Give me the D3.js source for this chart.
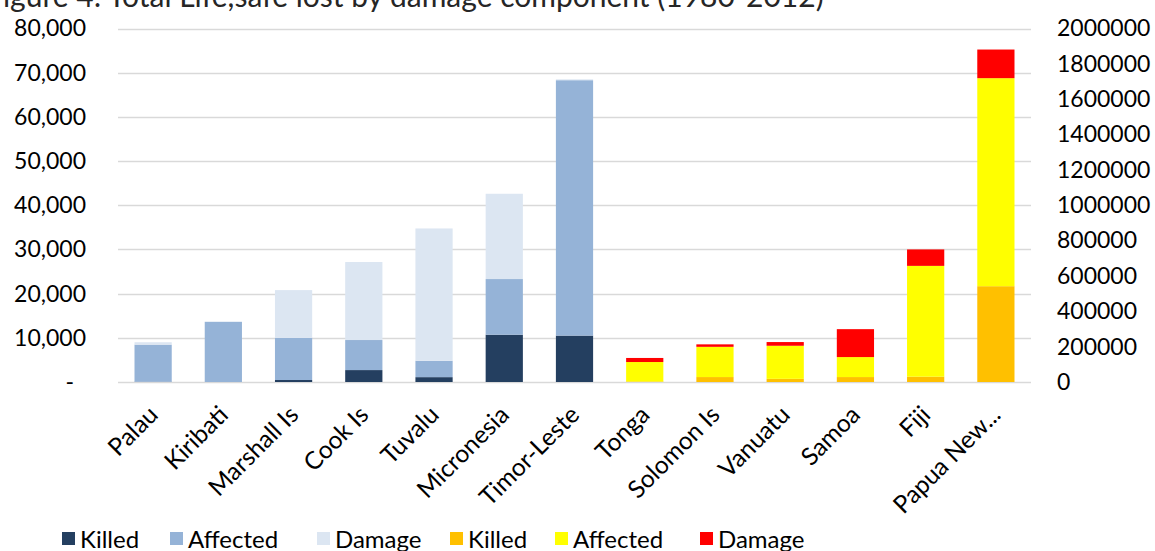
<!DOCTYPE html>
<html>
<head>
<meta charset="utf-8">
<script src="https://cdn.jsdelivr.net/npm/d3@7"></script>
<style>
  html, body { margin: 0; padding: 0; background: #fff; }
  svg { display: block; font-family: Lato, "Open Sans", sans-serif; }
</style>
</head>
<body>
<svg id="chart" width="1155" height="551"></svg>
<script>
// ---- data ----
const title = "Figure 4: Total Life,safe lost by damage component (1980-2012)";
const leftCategories = ["Palau", "Kiribati", "Marshall Is", "Cook Is", "Tuvalu", "Micronesia", "Timor-Leste"];
const rightCategories = ["Tonga", "Solomon Is", "Vanuatu", "Samoa", "Fiji", "Papua New..."];

// left axis series (first group)
const killedLeft   = [50, 0, 450, 2700, 1100, 10700, 10500];
const affectedLeft = [8400, 13600, 9550, 6800, 3700, 12600, 57800];
const damageLeft   = [550, 100, 10800, 17650, 29950, 19300, 200];

// right axis series (second group)
const killedRight   = [3000, 28000, 18000, 28000, 30000, 542000];
const affectedRight = [110000, 171000, 187000, 113000, 627000, 1177000];
const damageRight   = [23000, 14000, 21000, 158000, 93000, 162000];

const leftTicks = [0, 10000, 20000, 30000, 40000, 50000, 60000, 70000, 80000];
const leftTickLabels = ["-", "10,000", "20,000", "30,000", "40,000", "50,000", "60,000", "70,000", "80,000"];
const rightTicks = [0, 200000, 400000, 600000, 800000, 1000000, 1200000, 1400000, 1600000, 1800000, 2000000];
const rightTickLabels = ["0", "200000", "400000", "600000", "800000", "1000000", "1200000", "1400000", "1600000", "1800000", "2000000"];

const legendLabels = ["Killed", "Affected", "Damage", "Killed", "Affected", "Damage"];
const leftColors = ["#243F60", "#95B3D7", "#DCE6F2"];
const rightColors = ["#FFC000", "#FFFF00", "#FF0000"];

// ---- layout ----
const svg = d3.select("#chart");
const plot = { left: 118, right: 1031, top: 28.5, bottom: 382 };
const fontSize = 23;

const categories = leftCategories.concat(rightCategories);
const x = d3.scaleBand().domain(categories).range([plot.left, plot.right])
  .paddingInner(0.47).paddingOuter(0.235);
const yL = d3.scaleLinear().domain([0, 80000]).range([plot.bottom, plot.top]);
const yR = d3.scaleLinear().domain([0, 2000000]).range([plot.bottom, plot.top]);

// title (cut at top like reference)
svg.append("text").attr("x", -14).attr("y", 7)
  .attr("font-size", 30).attr("fill", "#262626").text(title);

// gridlines
svg.append("g").selectAll("line").data(leftTicks).join("line")
  .attr("x1", plot.left).attr("x2", plot.right)
  .attr("y1", d => Math.round(yL(d)) + 0.5).attr("y2", d => Math.round(yL(d)) + 0.5)
  .attr("stroke", "#D9D9D9").attr("stroke-width", 1.5);

// left axis
const axL = svg.append("g").attr("transform", `translate(${plot.left - 32},0)`)
  .call(d3.axisLeft(yL).tickValues(leftTicks).tickSize(0).tickPadding(0)
    .tickFormat((d, i) => leftTickLabels[i]));
axL.select(".domain").remove();
axL.selectAll("text").attr("font-size", fontSize).attr("font-family", "Lato, 'Open Sans', sans-serif")
  .attr("fill", "#000").attr("dx", (d) => d === 0 ? -12 : 0);

// right axis
const axR = svg.append("g").attr("transform", `translate(${plot.right + 26},0)`)
  .call(d3.axisRight(yR).tickValues(rightTicks).tickSize(0).tickPadding(0)
    .tickFormat((d, i) => rightTickLabels[i]));
axR.select(".domain").remove();
axR.selectAll("text").attr("font-size", fontSize).attr("font-family", "Lato, 'Open Sans', sans-serif")
  .attr("fill", "#000");

// stacked bars
const leftRows = leftCategories.map((c, i) => ({ cat: c, k: killedLeft[i], a: affectedLeft[i], d: damageLeft[i] }));
const rightRows = rightCategories.map((c, i) => ({ cat: c, k: killedRight[i], a: affectedRight[i], d: damageRight[i] }));
const stack = d3.stack().keys(["k", "a", "d"]);

function drawStack(rows, y, colors) {
  const series = stack(rows);
  svg.append("g").selectAll("g").data(series).join("g")
    .attr("fill", (s, i) => colors[i])
    .selectAll("rect").data(s => s).join("rect")
    .attr("x", d => x(d.data.cat))
    .attr("width", x.bandwidth())
    .attr("y", d => y(d[1]))
    .attr("height", d => Math.max(0, y(d[0]) - y(d[1])));
}
drawStack(leftRows, yL, leftColors);
drawStack(rightRows, yR, rightColors);

// category labels
const axX = svg.append("g").attr("transform", `translate(0,${plot.bottom})`)
  .call(d3.axisBottom(x).tickSize(0).tickPadding(0));
axX.select(".domain").remove();
axX.selectAll(".tick text")
  .attr("font-size", 24.5).attr("font-family", "Lato, 'Open Sans', sans-serif").attr("fill", "#000")
  .attr("text-anchor", "end")
  .attr("transform", "translate(-6,22) rotate(-45)")
  .attr("y", 0).attr("dy", "0.71em");

// legend
const legendX = [62, 170, 317, 450, 555, 700];
const legendColors = leftColors.concat(rightColors);
const lg = svg.append("g").selectAll("g").data(legendLabels).join("g")
  .attr("transform", (d, i) => `translate(${legendX[i]},532)`);
lg.append("rect").attr("width", 13).attr("height", 13).attr("fill", (d, i) => legendColors[i]);
lg.append("text").attr("x", 18).attr("y", 15.5).attr("font-size", 24).attr("fill", "#000").text(d => d);
</script>
</body>
</html>
